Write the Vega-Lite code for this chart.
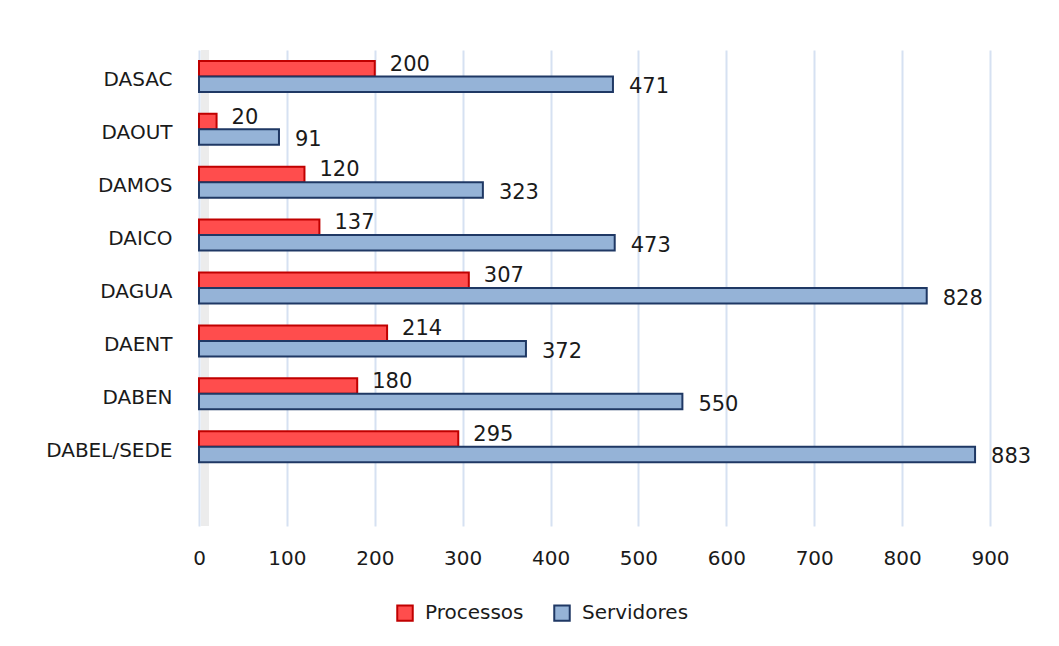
{
  "$schema": "https://vega.github.io/schema/vega-lite/v6.json",
  "width": 791,
  "height": 476,
  "autosize": {"type": "none"},
  "padding": {"left": 199, "top": 50, "right": 69, "bottom": 120},
  "background": "white",
  "config": {
    "view": {"stroke": null},
    "font": "DejaVu Sans"
  },
  "data": {
    "values": [
      {"unidade": "DASAC", "serie": "Processos", "valor": 200},
      {"unidade": "DASAC", "serie": "Servidores", "valor": 471},
      {"unidade": "DAOUT", "serie": "Processos", "valor": 20},
      {"unidade": "DAOUT", "serie": "Servidores", "valor": 91},
      {"unidade": "DAMOS", "serie": "Processos", "valor": 120},
      {"unidade": "DAMOS", "serie": "Servidores", "valor": 323},
      {"unidade": "DAICO", "serie": "Processos", "valor": 137},
      {"unidade": "DAICO", "serie": "Servidores", "valor": 473},
      {"unidade": "DAGUA", "serie": "Processos", "valor": 307},
      {"unidade": "DAGUA", "serie": "Servidores", "valor": 828},
      {"unidade": "DAENT", "serie": "Processos", "valor": 214},
      {"unidade": "DAENT", "serie": "Servidores", "valor": 372},
      {"unidade": "DABEN", "serie": "Processos", "valor": 180},
      {"unidade": "DABEN", "serie": "Servidores", "valor": 550},
      {"unidade": "DABEL/SEDE", "serie": "Processos", "valor": 295},
      {"unidade": "DABEL/SEDE", "serie": "Servidores", "valor": 883}
    ]
  },
  "encoding": {
    "y": {
      "field": "unidade",
      "type": "nominal",
      "title": null,
      "scale": {
        "domain": ["DASAC", "DAOUT", "DAMOS", "DAICO", "DAGUA", "DAENT", "DABEN", "DABEL/SEDE", " "],
        "paddingInner": 0.414,
        "paddingOuter": 0.207
      },
      "axis": {
        "domain": false,
        "ticks": false,
        "labelPadding": 27,
        "labelOffset": 4,
        "labelFontSize": 20,
        "labelColor": "#1a1a1a",
        "labelFont": "DejaVu Sans"
      }
    },
    "x": {
      "field": "valor",
      "type": "quantitative",
      "title": null,
      "scale": {"domain": [0, 900], "nice": false},
      "axis": {
        "values": [0, 100, 200, 300, 400, 500, 600, 700, 800, 900],
        "domain": false,
        "ticks": false,
        "grid": true,
        "gridColor": "#d6e1f2",
        "gridWidth": 2,
        "labelFlush": false,
        "labelPadding": 22,
        "labelFontSize": 20,
        "labelColor": "#1a1a1a",
        "labelFont": "DejaVu Sans"
      }
    }
  },
  "layer": [
    {
      "mark": {"type": "rule", "color": "#ececec", "strokeWidth": 8, "xOffset": 6},
      "encoding": {"x": {"datum": 0}, "y": null}
    },
    {
      "mark": {"type": "bar", "strokeWidth": 2},
      "encoding": {
        "yOffset": {
          "field": "serie",
          "type": "nominal",
          "scale": {"domain": ["Processos", "Servidores"], "paddingInner": 0, "paddingOuter": 0}
        },
        "color": {
          "field": "serie",
          "type": "nominal",
          "title": null,
          "scale": {"domain": ["Processos", "Servidores"], "range": ["#ff4d4d", "#95b3d7"]},
          "legend": {
            "orient": "none",
            "legendX": 196,
            "legendY": 553,
            "direction": "horizontal",
            "symbolType": "square",
            "symbolSize": 240,
            "symbolStrokeWidth": 2,
            "labelFontSize": 20,
            "labelColor": "#1a1a1a",
            "labelFont": "DejaVu Sans",
            "columnPadding": 26,
            "labelOffset": 10
          }
        },
        "stroke": {
          "field": "serie",
          "type": "nominal",
          "title": null,
          "scale": {"domain": ["Processos", "Servidores"], "range": ["#c00000", "#1f3864"]}
        }
      }
    },
    {
      "transform": [{"filter": "datum.serie === 'Processos'"}],
      "mark": {"type": "text", "align": "left", "baseline": "middle", "dx": 15, "dy": -4, "fontSize": 21, "color": "#1a1a1a", "font": "DejaVu Sans"},
      "encoding": {
        "yOffset": {"field": "serie", "type": "nominal", "scale": {"domain": ["Processos", "Servidores"], "paddingInner": 0, "paddingOuter": 0}},
        "text": {"field": "valor", "type": "quantitative"}
      }
    },
    {
      "transform": [{"filter": "datum.serie === 'Servidores'"}],
      "mark": {"type": "text", "align": "left", "baseline": "middle", "dx": 16, "dy": 3, "fontSize": 21, "color": "#1a1a1a", "font": "DejaVu Sans"},
      "encoding": {
        "yOffset": {"field": "serie", "type": "nominal", "scale": {"domain": ["Processos", "Servidores"], "paddingInner": 0, "paddingOuter": 0}},
        "text": {"field": "valor", "type": "quantitative"}
      }
    }
  ]
}
